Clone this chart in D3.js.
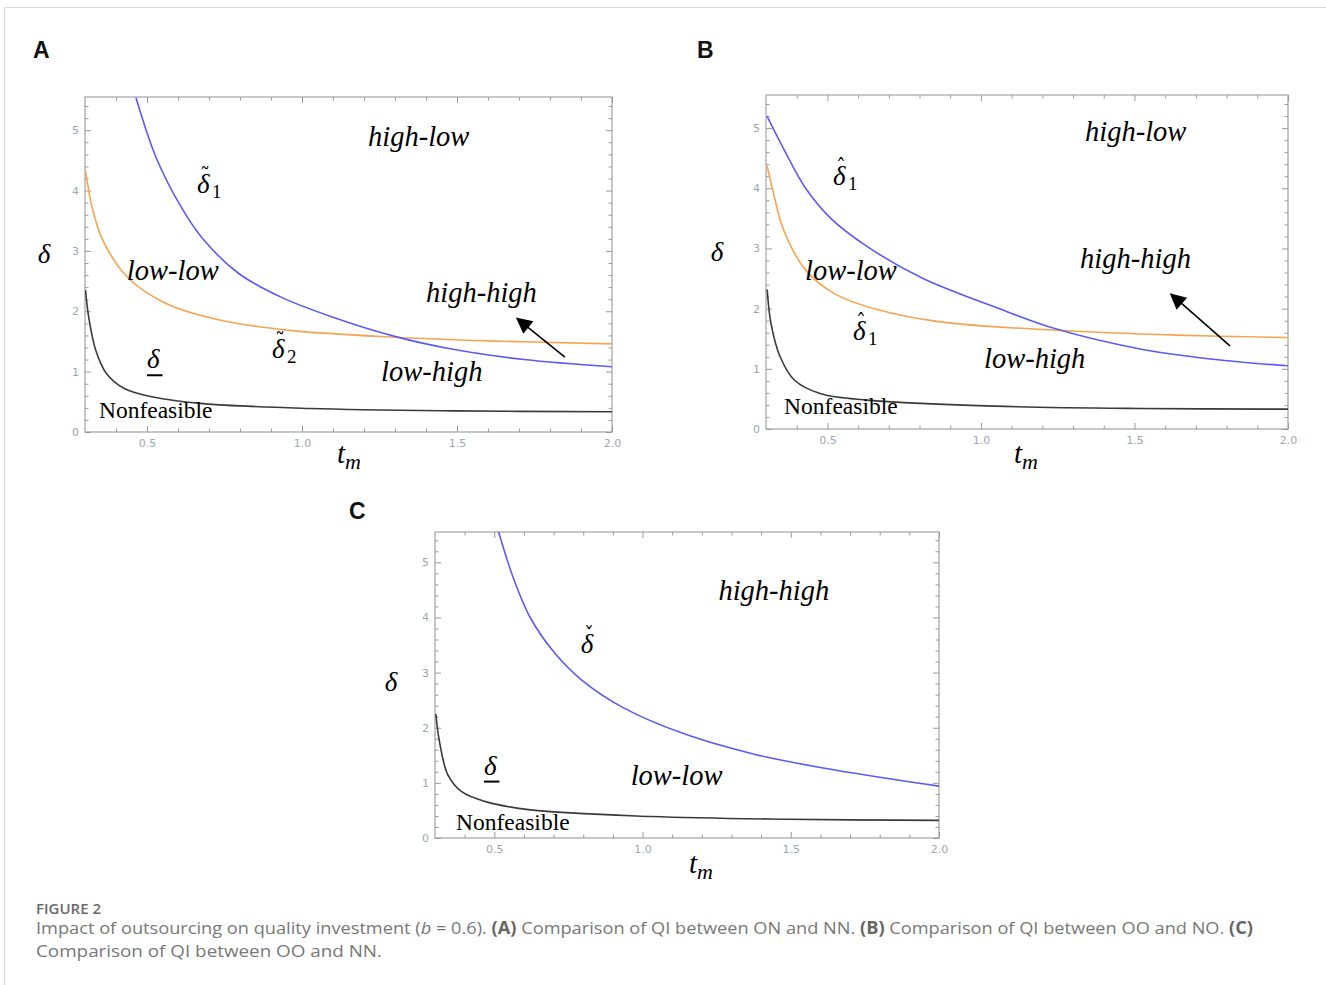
<!DOCTYPE html>
<html>
<head>
<meta charset="utf-8">
<script src="https://cdn.jsdelivr.net/npm/d3@7"></script>
<style>
  html, body { margin: 0; padding: 0; background: #fff; }
  svg { display: block; }
</style>
</head>
<body>
<svg id="chart" width="1326" height="985"></svg>
<script>
// ---------------- DATA ----------------
const xTickValues = [0.5, 1.0, 1.5, 2.0];
const xTickLabels = ["0.5", "1.0", "1.5", "2.0"];
const yTickValues = [0, 1, 2, 3, 4, 5];
const yTickLabels = ["0", "1", "2", "3", "4", "5"];
const xDomain = [0.3, 2.0];
const yDomain = [0, 5.55];

// Panel A
const tA_delta1 = [0.465, 0.530, 0.611, 0.680, 0.795, 0.934, 1.095, 1.302, 1.487, 1.717, 2.0];
const vA_delta1 = [5.53, 4.54, 3.72, 3.20, 2.63, 2.23, 1.91, 1.58, 1.37, 1.20, 1.08];
const tA_delta2 = [0.302, 0.323, 0.358, 0.438, 0.565, 0.738, 0.968, 1.302, 1.602, 2.0];
const vA_delta2 = [4.32, 3.72, 3.17, 2.56, 2.12, 1.85, 1.68, 1.57, 1.51, 1.46];
const tA_lower  = [0.302, 0.312, 0.335, 0.369, 0.427, 0.519, 0.681, 1.026, 1.487, 2.0];
const vA_lower  = [2.34, 1.90, 1.35, 0.97, 0.72, 0.58, 0.47, 0.39, 0.35, 0.335];

// Panel B
const tB_hat1a = [0.304, 0.357, 0.429, 0.511, 0.630, 0.808, 1.044, 1.246, 1.518, 1.755, 2.0];
const vB_hat1a = [5.19, 4.66, 4.00, 3.50, 3.03, 2.51, 2.03, 1.66, 1.33, 1.16, 1.05];
const tB_hat1b = [0.304, 0.322, 0.357, 0.429, 0.523, 0.665, 0.867, 1.246, 1.637, 2.0];
const vB_hat1b = [4.36, 3.97, 3.31, 2.64, 2.25, 1.98, 1.78, 1.64, 1.56, 1.52];
const tB_lower = [0.304, 0.316, 0.346, 0.393, 0.476, 0.630, 1.044, 1.518, 2.0];
const vB_lower = [2.31, 1.76, 1.20, 0.81, 0.59, 0.48, 0.38, 0.34, 0.33];

// Panel C
const tC_check = [0.515, 0.564, 0.622, 0.703, 0.796, 0.936, 1.145, 1.377, 1.609, 2.0];
const vC_check = [5.54, 4.72, 3.99, 3.36, 2.86, 2.36, 1.88, 1.52, 1.27, 0.94];
const tC_lower = [0.303, 0.315, 0.343, 0.390, 0.471, 0.622, 1.029, 1.489, 2.0];
const vC_lower = [2.24, 1.75, 1.15, 0.84, 0.66, 0.51, 0.39, 0.34, 0.32];

const captionTitle = "FIGURE 2";

// ---------------- STYLE / LAYOUT ----------------
const COL_BLUE = "#5b5bf7";
const COL_ORANGE = "#f8a34f";
const COL_BLACK = "#3a3a3a";
const COL_FRAME = "#9a9a9a";
const COL_TICKLBL = "#9aa6b2";
const SERIF = "'Liberation Serif', 'DejaVu Serif', serif";

const zip = (t, v) => t.map((d, i) => [d, v[i]]);

const panels = [
  {
    letter: "A", letterX: 33, letterY: 58,
    left: 85, top: 97, width: 527, height: 335,
    deltaLbl: [44, 263], tmLbl: [337, 463],
    curves: [
      { data: zip(tA_lower, vA_lower), color: COL_BLACK },
      { data: zip(tA_delta2, vA_delta2), color: COL_ORANGE },
      { data: zip(tA_delta1, vA_delta1), color: COL_BLUE }
    ],
    texts: [
      { t: 1.213, v: 4.74, s: "high-low" },
      { t: 0.435, v: 2.51, s: "low-low" },
      { t: 1.400, v: 2.16, s: "high-high" },
      { t: 1.255, v: 0.84, s: "low-high" }
    ],
    nonfeasible: { t: 0.345, v: 0.23 },
    deltas: [
      { t: 0.661, v: 3.96, acc: "\u02DC", sub: "1" },
      { t: 0.903, v: 1.22, acc: "\u02DC", sub: "2" },
      { t: 0.500, v: 1.056, under: true }
    ],
    arrow: { from: [1.848, 1.24], to: [1.694, 1.88] }
  },
  {
    letter: "B", letterX: 697, letterY: 58,
    left: 766, top: 95, width: 522, height: 334,
    deltaLbl: [717, 261], tmLbl: [1014, 463],
    curves: [
      { data: zip(tB_lower, vB_lower), color: COL_BLACK },
      { data: zip(tB_hat1b, vB_hat1b), color: COL_ORANGE },
      { data: zip(tB_hat1a, vB_hat1a), color: COL_BLUE }
    ],
    texts: [
      { t: 1.339, v: 4.78, s: "high-low" },
      { t: 0.427, v: 2.48, s: "low-low" },
      { t: 1.323, v: 2.67, s: "high-high" },
      { t: 1.010, v: 1.01, s: "low-high" }
    ],
    nonfeasible: { t: 0.359, v: 0.25 },
    deltas: [
      { t: 0.518, v: 4.05, acc: "\u02C6", sub: "1" },
      { t: 0.583, v: 1.48, acc: "\u02C6", sub: "1" }
    ],
    arrow: { from: [1.811, 1.38], to: [1.619, 2.24] }
  },
  {
    letter: "C", letterX: 349, letterY: 519,
    left: 435, top: 532, width: 504, height: 306,
    deltaLbl: [391, 691], tmLbl: [689, 873],
    curves: [
      { data: zip(tC_lower, vC_lower), color: COL_BLACK },
      { data: zip(tC_check, vC_check), color: COL_BLUE }
    ],
    texts: [
      { t: 1.256, v: 4.31, s: "high-high" },
      { t: 0.960, v: 0.96, s: "low-low" }
    ],
    nonfeasible: { t: 0.371, v: 0.145 },
    deltas: [
      { t: 0.792, v: 3.36, acc: "\u02C7" },
      { t: 0.465, v: 1.15, under: true }
    ],
    arrow: null
  }
];

// ---------------- DRAW ----------------
const svg = d3.select("#chart");

svg.append("line").attr("x1", 5).attr("x2", 1326).attr("y1", 7.5).attr("y2", 7.5)
  .attr("stroke", "#dcdcdc").attr("stroke-width", 1.2);
svg.append("line").attr("x1", 4.5).attr("x2", 4.5).attr("y1", 7.5).attr("y2", 985)
  .attr("stroke", "#dcdcdc").attr("stroke-width", 1.2);

const defs = svg.append("defs");
defs.append("marker").attr("id", "arrowhead")
  .attr("viewBox", "0 0 10 10").attr("refX", 9).attr("refY", 5)
  .attr("markerWidth", 20).attr("markerHeight", 16)
  .attr("markerUnits", "userSpaceOnUse").attr("orient", "auto")
  .append("path").attr("d", "M0,0 L10,5 L0,10 Z").attr("fill", "#000");

panels.forEach((p, pi) => {
  const x = d3.scaleLinear().domain(xDomain).range([p.left, p.left + p.width]);
  const y = d3.scaleLinear().domain(yDomain).range([p.top + p.height, p.top]);
  const g = svg.append("g");

  g.append("text").attr("x", p.letterX).attr("y", p.letterY)
    .attr("font-family", "'Liberation Sans', Arial, sans-serif")
    .attr("font-weight", "bold").attr("font-size", 23).attr("fill", "#111")
    .text(p.letter);

  const clipId = "clip" + pi;
  defs.append("clipPath").attr("id", clipId).append("rect")
    .attr("x", p.left).attr("y", p.top).attr("width", p.width).attr("height", p.height);

  const xMinor = d3.range(0.4, 2.0001, 0.1).map(v => +v.toFixed(2)).filter(v => !xTickValues.some(m => Math.abs(m - v) < 1e-6));
  const yMinor = d3.range(0, 5.55, 0.2).map(v => +v.toFixed(2)).filter(v => !yTickValues.some(m => Math.abs(m - v) < 1e-6));

  const axisStyle = sel => {
    sel.select(".domain").remove();
    sel.selectAll(".tick line").attr("stroke", COL_FRAME).attr("stroke-width", 1);
  };

  const bottom = g.append("g").attr("transform", `translate(0,${p.top + p.height})`)
    .call(d3.axisBottom(x).tickValues(xTickValues).tickFormat((d, i) => xTickLabels[i]).tickSizeInner(-6).tickPadding(5));
  axisStyle(bottom);
  bottom.selectAll(".tick text").attr("fill", COL_TICKLBL).attr("font-size", 11)
    .attr("font-family", "'DejaVu Sans', sans-serif").attr("dy", "0.95em");
  const bottomMinor = g.append("g").attr("transform", `translate(0,${p.top + p.height})`)
    .call(d3.axisBottom(x).tickValues(xMinor).tickFormat("").tickSizeInner(-3.5));
  axisStyle(bottomMinor);

  const topAx = g.append("g").attr("transform", `translate(0,${p.top})`)
    .call(d3.axisTop(x).tickValues(xTickValues).tickFormat("").tickSizeInner(-6));
  axisStyle(topAx);
  const topMinor = g.append("g").attr("transform", `translate(0,${p.top})`)
    .call(d3.axisTop(x).tickValues(xMinor).tickFormat("").tickSizeInner(-3.5));
  axisStyle(topMinor);

  const leftAx = g.append("g").attr("transform", `translate(${p.left},0)`)
    .call(d3.axisLeft(y).tickValues(yTickValues).tickFormat((d, i) => yTickLabels[i]).tickSizeInner(-6).tickPadding(6));
  axisStyle(leftAx);
  leftAx.selectAll(".tick text").attr("fill", COL_TICKLBL).attr("font-size", 11)
    .attr("font-family", "'DejaVu Sans', sans-serif");
  const leftMinor = g.append("g").attr("transform", `translate(${p.left},0)`)
    .call(d3.axisLeft(y).tickValues(yMinor).tickFormat("").tickSizeInner(-3.5));
  axisStyle(leftMinor);

  const rightAx = g.append("g").attr("transform", `translate(${p.left + p.width},0)`)
    .call(d3.axisRight(y).tickValues(yTickValues).tickFormat("").tickSizeInner(-6));
  axisStyle(rightAx);
  const rightMinor = g.append("g").attr("transform", `translate(${p.left + p.width},0)`)
    .call(d3.axisRight(y).tickValues(yMinor).tickFormat("").tickSizeInner(-3.5));
  axisStyle(rightMinor);

  g.append("rect").attr("x", p.left).attr("y", p.top).attr("width", p.width).attr("height", p.height)
    .attr("fill", "none").attr("stroke", COL_FRAME).attr("stroke-width", 1.1);

  const line = d3.line().x(d => x(d[0])).y(d => y(d[1])).curve(d3.curveCatmullRom.alpha(0.5));
  const cg = g.append("g").attr("clip-path", `url(#${clipId})`);
  p.curves.forEach(c => {
    cg.append("path").datum(c.data).attr("d", line)
      .attr("fill", "none").attr("stroke", c.color).attr("stroke-width", 1.6)
      .attr("stroke-linejoin", "round").attr("stroke-linecap", "round");
  });

  p.texts.forEach(tx => {
    g.append("text").attr("x", x(tx.t)).attr("y", y(tx.v))
      .attr("font-family", SERIF).attr("font-style", "italic").attr("font-size", 28.5)
      .attr("fill", "#000").text(tx.s);
  });

  g.append("text").attr("x", x(p.nonfeasible.t)).attr("y", y(p.nonfeasible.v))
    .attr("font-family", SERIF).attr("font-size", 23.5).attr("fill", "#000").text("Nonfeasible");

  // delta labels: one text element holding δ, its accent and subscript
  p.deltas.forEach(dl => {
    const X = x(dl.t), Y = y(dl.v);
    const t = g.append("text").attr("x", X).attr("y", Y)
      .attr("font-family", SERIF).attr("font-style", "italic").attr("font-size", 27)
      .attr("fill", "#000");
    t.append("tspan").text("δ");
    if (dl.acc) {
      t.append("tspan").attr("dx", -9.5).attr("dy", -11)
        .attr("font-family", "'DejaVu Serif', serif").attr("font-style", "normal")
        .attr("font-size", 20).text(dl.acc);
    }
    if (dl.sub) {
      t.append("tspan").attr("x", X + 15).attr("dy", dl.acc ? 16 : 5)
        .attr("font-style", "normal").attr("font-size", 19).text(dl.sub);
    }
    if (dl.under) {
      g.append("line").attr("x1", X).attr("x2", X + 15.5)
        .attr("y1", Y + 7).attr("y2", Y + 7)
        .attr("stroke", "#000").attr("stroke-width", 2);
    }
  });

  if (p.arrow) {
    g.append("line")
      .attr("x1", x(p.arrow.from[0])).attr("y1", y(p.arrow.from[1]))
      .attr("x2", x(p.arrow.to[0])).attr("y2", y(p.arrow.to[1]))
      .attr("stroke", "#000").attr("stroke-width", 1.6)
      .attr("marker-end", "url(#arrowhead)");
  }

  g.append("text").attr("x", p.deltaLbl[0]).attr("y", p.deltaLbl[1]).attr("text-anchor", "middle")
    .attr("font-family", SERIF).attr("font-style", "italic").attr("font-size", 27)
    .attr("fill", "#000").text("δ");
  const tm = g.append("text").attr("x", p.tmLbl[0]).attr("y", p.tmLbl[1])
    .attr("font-family", SERIF).attr("font-style", "italic").attr("font-size", 29).attr("fill", "#000");
  tm.append("tspan").text("t");
  tm.append("tspan").attr("font-size", 22).attr("dy", 6).text("m");
});

// ---------------- CAPTION ----------------
svg.append("text").attr("x", 36).attr("y", 914)
  .attr("font-family", "'Open Sans', 'Noto Sans', sans-serif").attr("font-size", 14)
  .attr("font-weight", 600).attr("fill", "#6a6a6a")
  .attr("textLength", 65).attr("lengthAdjust", "spacingAndGlyphs").text(captionTitle);

const cap1 = svg.append("text").attr("x", 36).attr("y", 934)
  .attr("font-family", "'Open Sans', 'Noto Sans', sans-serif").attr("font-size", 17)
  .attr("fill", "#777").attr("textLength", 1217).attr("lengthAdjust", "spacingAndGlyphs");
cap1.append("tspan").text("Impact of outsourcing on quality investment (");
cap1.append("tspan").attr("font-style", "italic").text("b");
cap1.append("tspan").text(" = 0.6). ");
cap1.append("tspan").attr("font-weight", "bold").attr("fill", "#666").text("(A)");
cap1.append("tspan").text(" Comparison of QI between ON and NN. ");
cap1.append("tspan").attr("font-weight", "bold").attr("fill", "#666").text("(B)");
cap1.append("tspan").text(" Comparison of QI between OO and NO. ");
cap1.append("tspan").attr("font-weight", "bold").attr("fill", "#666").text("(C)");

svg.append("text").attr("x", 36).attr("y", 957)
  .attr("font-family", "'Open Sans', 'Noto Sans', sans-serif").attr("font-size", 17)
  .attr("fill", "#777").attr("textLength", 346).attr("lengthAdjust", "spacingAndGlyphs")
  .text("Comparison of QI between OO and NN.");
</script>
</body>
</html>
